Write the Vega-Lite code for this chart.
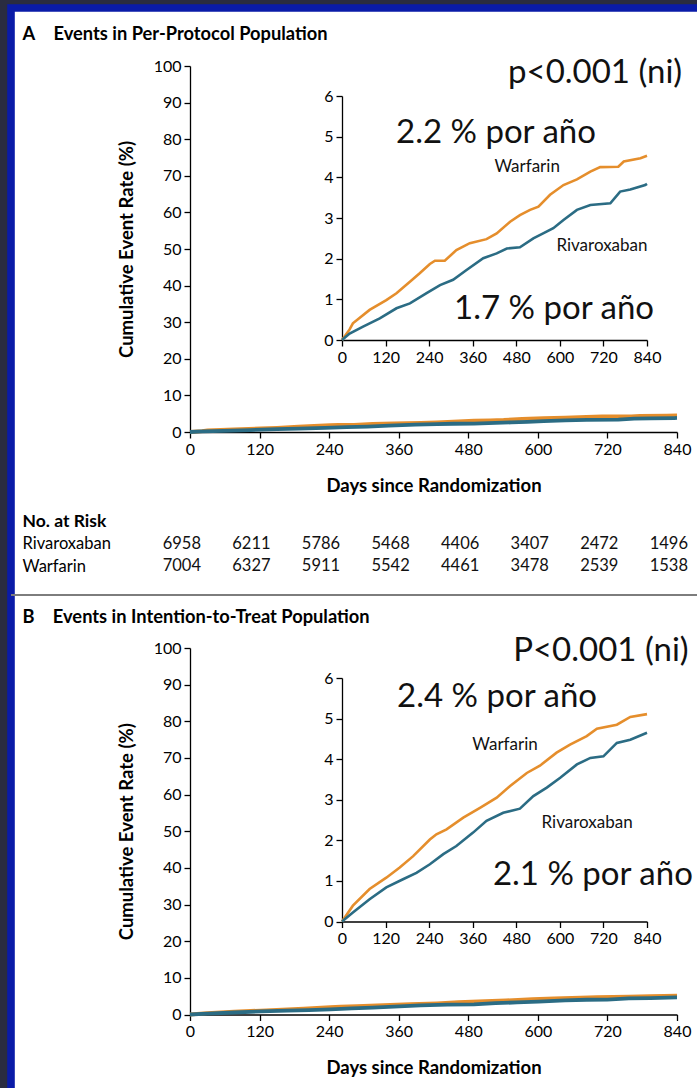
{
  "$schema": "https://vega.github.io/schema/vega-lite/v6.json",
  "width": 686,
  "height": 1080,
  "autosize": {"type": "none"},
  "padding": {"left": 11, "top": 8, "right": 0, "bottom": 0},
  "background": "#2a2c40",
  "config": {
    "view": {"fill": "white", "stroke": "#0a1ba8", "strokeWidth": 7.6, "strokeDash": [686, 1766, 1080]},
    "font": "Lato",
    "text": {"font": "Lato", "color": "#111111"},
    "axis": {
      "grid": false, "domainColor": "#000000", "tickColor": "#000000", "labelColor": "#000000", "titleColor": "#000000",
      "labelFont": "Lato", "titleFont": "Lato", "labelFontSize": 16, "titleFontSize": 18.5, "titleFontWeight": "bold",
      "tickSize": 6, "tickWidth": 1.3, "domainWidth": 1.3, "labelFlush": false, "labelOverlap": false, "labelPadding": 3
    }
  },
  "datasets": {
    "km": [
      {"panel": "A", "arm": "Warfarin", "day": 0, "rate": 0},
      {"panel": "A", "arm": "Warfarin", "day": 21, "rate": 0.26},
      {"panel": "A", "arm": "Warfarin", "day": 30, "rate": 0.41},
      {"panel": "A", "arm": "Warfarin", "day": 76, "rate": 0.74},
      {"panel": "A", "arm": "Warfarin", "day": 122, "rate": 0.98},
      {"panel": "A", "arm": "Warfarin", "day": 150, "rate": 1.15},
      {"panel": "A", "arm": "Warfarin", "day": 187, "rate": 1.43},
      {"panel": "A", "arm": "Warfarin", "day": 214, "rate": 1.64},
      {"panel": "A", "arm": "Warfarin", "day": 242, "rate": 1.87},
      {"panel": "A", "arm": "Warfarin", "day": 256, "rate": 1.95},
      {"panel": "A", "arm": "Warfarin", "day": 283, "rate": 1.95},
      {"panel": "A", "arm": "Warfarin", "day": 315, "rate": 2.21},
      {"panel": "A", "arm": "Warfarin", "day": 352, "rate": 2.38},
      {"panel": "A", "arm": "Warfarin", "day": 398, "rate": 2.48},
      {"panel": "A", "arm": "Warfarin", "day": 426, "rate": 2.62},
      {"panel": "A", "arm": "Warfarin", "day": 463, "rate": 2.91},
      {"panel": "A", "arm": "Warfarin", "day": 490, "rate": 3.07},
      {"panel": "A", "arm": "Warfarin", "day": 518, "rate": 3.2},
      {"panel": "A", "arm": "Warfarin", "day": 541, "rate": 3.28},
      {"panel": "A", "arm": "Warfarin", "day": 573, "rate": 3.57},
      {"panel": "A", "arm": "Warfarin", "day": 610, "rate": 3.81},
      {"panel": "A", "arm": "Warfarin", "day": 647, "rate": 3.95},
      {"panel": "A", "arm": "Warfarin", "day": 684, "rate": 4.14},
      {"panel": "A", "arm": "Warfarin", "day": 711, "rate": 4.25},
      {"panel": "A", "arm": "Warfarin", "day": 761, "rate": 4.26},
      {"panel": "A", "arm": "Warfarin", "day": 776, "rate": 4.39},
      {"panel": "A", "arm": "Warfarin", "day": 822, "rate": 4.47},
      {"panel": "A", "arm": "Warfarin", "day": 840, "rate": 4.53},
      {"panel": "A", "arm": "Rivaroxaban", "day": 0, "rate": 0},
      {"panel": "A", "arm": "Rivaroxaban", "day": 21, "rate": 0.16},
      {"panel": "A", "arm": "Rivaroxaban", "day": 58, "rate": 0.33},
      {"panel": "A", "arm": "Rivaroxaban", "day": 104, "rate": 0.53},
      {"panel": "A", "arm": "Rivaroxaban", "day": 150, "rate": 0.78},
      {"panel": "A", "arm": "Rivaroxaban", "day": 187, "rate": 0.9},
      {"panel": "A", "arm": "Rivaroxaban", "day": 233, "rate": 1.15},
      {"panel": "A", "arm": "Rivaroxaban", "day": 270, "rate": 1.35},
      {"panel": "A", "arm": "Rivaroxaban", "day": 306, "rate": 1.48},
      {"panel": "A", "arm": "Rivaroxaban", "day": 343, "rate": 1.72},
      {"panel": "A", "arm": "Rivaroxaban", "day": 389, "rate": 2.01},
      {"panel": "A", "arm": "Rivaroxaban", "day": 426, "rate": 2.13},
      {"panel": "A", "arm": "Rivaroxaban", "day": 454, "rate": 2.25},
      {"panel": "A", "arm": "Rivaroxaban", "day": 490, "rate": 2.28},
      {"panel": "A", "arm": "Rivaroxaban", "day": 527, "rate": 2.5},
      {"panel": "A", "arm": "Rivaroxaban", "day": 554, "rate": 2.62},
      {"panel": "A", "arm": "Rivaroxaban", "day": 582, "rate": 2.75},
      {"panel": "A", "arm": "Rivaroxaban", "day": 610, "rate": 2.95},
      {"panel": "A", "arm": "Rivaroxaban", "day": 647, "rate": 3.2},
      {"panel": "A", "arm": "Rivaroxaban", "day": 684, "rate": 3.32},
      {"panel": "A", "arm": "Rivaroxaban", "day": 739, "rate": 3.36},
      {"panel": "A", "arm": "Rivaroxaban", "day": 766, "rate": 3.65},
      {"panel": "A", "arm": "Rivaroxaban", "day": 794, "rate": 3.7},
      {"panel": "A", "arm": "Rivaroxaban", "day": 835, "rate": 3.81},
      {"panel": "A", "arm": "Rivaroxaban", "day": 840, "rate": 3.84},
      {"panel": "B", "arm": "Warfarin", "day": 0, "rate": 0},
      {"panel": "B", "arm": "Warfarin", "day": 30, "rate": 0.39},
      {"panel": "B", "arm": "Warfarin", "day": 76, "rate": 0.8},
      {"panel": "B", "arm": "Warfarin", "day": 122, "rate": 1.08},
      {"panel": "B", "arm": "Warfarin", "day": 159, "rate": 1.33},
      {"panel": "B", "arm": "Warfarin", "day": 196, "rate": 1.61},
      {"panel": "B", "arm": "Warfarin", "day": 242, "rate": 2.02},
      {"panel": "B", "arm": "Warfarin", "day": 260, "rate": 2.15},
      {"panel": "B", "arm": "Warfarin", "day": 288, "rate": 2.27},
      {"panel": "B", "arm": "Warfarin", "day": 334, "rate": 2.56},
      {"panel": "B", "arm": "Warfarin", "day": 380, "rate": 2.8},
      {"panel": "B", "arm": "Warfarin", "day": 426, "rate": 3.05},
      {"panel": "B", "arm": "Warfarin", "day": 463, "rate": 3.34},
      {"panel": "B", "arm": "Warfarin", "day": 509, "rate": 3.66},
      {"panel": "B", "arm": "Warfarin", "day": 545, "rate": 3.84},
      {"panel": "B", "arm": "Warfarin", "day": 591, "rate": 4.16},
      {"panel": "B", "arm": "Warfarin", "day": 628, "rate": 4.36},
      {"panel": "B", "arm": "Warfarin", "day": 674, "rate": 4.57},
      {"panel": "B", "arm": "Warfarin", "day": 702, "rate": 4.75},
      {"panel": "B", "arm": "Warfarin", "day": 757, "rate": 4.85},
      {"panel": "B", "arm": "Warfarin", "day": 794, "rate": 5.04},
      {"panel": "B", "arm": "Warfarin", "day": 840, "rate": 5.11},
      {"panel": "B", "arm": "Rivaroxaban", "day": 0, "rate": 0},
      {"panel": "B", "arm": "Rivaroxaban", "day": 30, "rate": 0.22},
      {"panel": "B", "arm": "Rivaroxaban", "day": 76, "rate": 0.55},
      {"panel": "B", "arm": "Rivaroxaban", "day": 122, "rate": 0.84},
      {"panel": "B", "arm": "Rivaroxaban", "day": 168, "rate": 1.04},
      {"panel": "B", "arm": "Rivaroxaban", "day": 205, "rate": 1.2},
      {"panel": "B", "arm": "Rivaroxaban", "day": 242, "rate": 1.41},
      {"panel": "B", "arm": "Rivaroxaban", "day": 279, "rate": 1.66},
      {"panel": "B", "arm": "Rivaroxaban", "day": 315, "rate": 1.86},
      {"panel": "B", "arm": "Rivaroxaban", "day": 361, "rate": 2.19},
      {"panel": "B", "arm": "Rivaroxaban", "day": 398, "rate": 2.48},
      {"panel": "B", "arm": "Rivaroxaban", "day": 444, "rate": 2.68},
      {"panel": "B", "arm": "Rivaroxaban", "day": 490, "rate": 2.78},
      {"panel": "B", "arm": "Rivaroxaban", "day": 527, "rate": 3.09},
      {"panel": "B", "arm": "Rivaroxaban", "day": 564, "rate": 3.3},
      {"panel": "B", "arm": "Rivaroxaban", "day": 601, "rate": 3.54},
      {"panel": "B", "arm": "Rivaroxaban", "day": 647, "rate": 3.87},
      {"panel": "B", "arm": "Rivaroxaban", "day": 684, "rate": 4.03},
      {"panel": "B", "arm": "Rivaroxaban", "day": 720, "rate": 4.07},
      {"panel": "B", "arm": "Rivaroxaban", "day": 757, "rate": 4.4},
      {"panel": "B", "arm": "Rivaroxaban", "day": 794, "rate": 4.48},
      {"panel": "B", "arm": "Rivaroxaban", "day": 840, "rate": 4.65}
    ],
    "risk": [
      {"arm": "Rivaroxaban", "day": 0, "n": 6958},
      {"arm": "Rivaroxaban", "day": 120, "n": 6211},
      {"arm": "Rivaroxaban", "day": 240, "n": 5786},
      {"arm": "Rivaroxaban", "day": 360, "n": 5468},
      {"arm": "Rivaroxaban", "day": 480, "n": 4406},
      {"arm": "Rivaroxaban", "day": 600, "n": 3407},
      {"arm": "Rivaroxaban", "day": 720, "n": 2472},
      {"arm": "Rivaroxaban", "day": 840, "n": 1496},
      {"arm": "Warfarin", "day": 0, "n": 7004},
      {"arm": "Warfarin", "day": 120, "n": 6327},
      {"arm": "Warfarin", "day": 240, "n": 5911},
      {"arm": "Warfarin", "day": 360, "n": 5542},
      {"arm": "Warfarin", "day": 480, "n": 4461},
      {"arm": "Warfarin", "day": 600, "n": 3478},
      {"arm": "Warfarin", "day": 720, "n": 2539},
      {"arm": "Warfarin", "day": 840, "n": 1538}
    ],
    "armlabels": [
      {"panel": "A", "arm": "Warfarin", "day": 510, "rate": 4.25},
      {"panel": "A", "arm": "Rivaroxaban", "day": 716, "rate": 2.31},
      {"panel": "B", "arm": "Warfarin", "day": 449, "rate": 4.35},
      {"panel": "B", "arm": "Rivaroxaban", "day": 675, "rate": 2.43}
    ],
    "notes": [
      {"panel": "A", "label": "p<0.001 (ni)", "day": 697, "rate": 6.57},
      {"panel": "A", "label": "2.2 % por año", "day": 424, "rate": 5.09},
      {"panel": "A", "label": "1.7 % por año", "day": 584, "rate": 0.76},
      {"panel": "B", "label": "P<0.001 (ni)", "day": 713, "rate": 6.67},
      {"panel": "B", "label": "2.4 % por año", "day": 427, "rate": 5.53},
      {"panel": "B", "label": "2.1 % por año", "day": 691, "rate": 1.15}
    ],
    "separator": [
      {"between": "A|B"}
    ]
  },
  "resolve": {"scale": {"x": "independent", "y": "independent"}, "axis": {"x": "independent", "y": "independent"}},
  "layer": [
    {
      "data": {"name": "km"},
      "transform": [{"filter": "datum.panel === 'A'"}],
      "mark": {"type": "line", "strokeWidth": 3.8},
      "encoding": {
        "x": {"field": "day", "type": "quantitative",
          "scale": {"domain": [0, 840], "range": [179, 666], "nice": false, "zero": false},
          "axis": {"orient": "bottom", "offset": -656, "values": [0, 120, 240, 360, 480, 600, 720, 840], "title": "Days since Randomization", "titlePadding": 19}},
        "y": {"field": "rate", "type": "quantitative",
          "scale": {"domain": [0, 100], "range": [424, 58], "nice": false},
          "axis": {"orient": "left", "offset": -179, "values": [0, 10, 20, 30, 40, 50, 60, 70, 80, 90, 100], "title": "Cumulative Event Rate (%)", "titlePadding": 17}},
        "color": {"field": "arm", "type": "nominal", "scale": {"domain": ["Rivaroxaban", "Warfarin"], "range": ["#2b6c84", "#e58e2c"]}, "legend": null}
      }
    },
    {
      "layer": [
        {
          "data": {"name": "km"},
          "transform": [{"filter": "datum.panel === 'A'"}],
          "mark": {"type": "line", "strokeWidth": 2.6},
          "encoding": {
            "x": {"field": "day", "type": "quantitative",
              "scale": {"domain": [0, 840], "range": [331, 636], "nice": false, "zero": false},
              "axis": {"orient": "bottom", "offset": -748, "values": [0, 120, 240, 360, 480, 600, 720, 840],
                "title": "A\u2002\u2002Events in Per-Protocol Population", "titleX": 11, "titleY": -306, "titleAngle": 0,
                "titleAlign": "left", "titleBaseline": "middle", "titleFontSize": 18.3}},
            "y": {"field": "rate", "type": "quantitative",
              "scale": {"domain": [0, 6], "range": [332, 88], "nice": false},
              "axis": {"orient": "left", "offset": -331, "values": [0, 1, 2, 3, 4, 5, 6], "format": "d", "title": null}},
            "color": {"field": "arm", "type": "nominal", "legend": null}
          }
        },
        {
          "data": {"name": "armlabels"},
          "transform": [{"filter": "datum.panel === 'A'"}],
          "mark": {"type": "text", "fontSize": 17, "baseline": "middle"},
          "encoding": {
            "x": {"field": "day", "type": "quantitative"},
            "y": {"field": "rate", "type": "quantitative"},
            "text": {"field": "arm"}
          }
        },
        {
          "data": {"name": "notes"},
          "transform": [{"filter": "datum.panel === 'A'"}],
          "mark": {"type": "text", "fontSize": 33, "baseline": "middle", "color": "#111111"},
          "encoding": {
            "x": {"field": "day", "type": "quantitative"},
            "y": {"field": "rate", "type": "quantitative"},
            "text": {"field": "label"}
          }
        }
      ]
    },
    {
      "data": {"name": "risk"},
      "mark": {"type": "text", "align": "right", "dx": 11, "baseline": "middle", "fontSize": 16.5},
      "encoding": {
        "x": {"field": "day", "type": "quantitative",
          "scale": {"domain": [0, 840], "range": [179, 666], "nice": false, "zero": false}, "axis": null},
        "y": {"field": "arm", "type": "nominal",
          "scale": {"type": "point", "domain": ["No. at Risk", "Rivaroxaban", "Warfarin"], "range": [513, 558], "padding": 0},
          "axis": {"orient": "left", "offset": -11, "ticks": false, "tickSize": 0, "domain": false, "labelAlign": "left", "labelPadding": 0,
            "labelFontSize": {"condition": {"test": "datum.value === 'No. at Risk'", "value": 17.5}, "value": 16.5},
            "labelFontWeight": {"condition": {"test": "datum.value === 'No. at Risk'", "value": "bold"}, "value": "normal"},
            "title": null}},
        "text": {"field": "n", "type": "quantitative", "format": "d"}
      }
    },
    {
      "layer": [
        {
          "data": {"name": "km"},
          "transform": [{"filter": "datum.panel === 'B'"}],
          "mark": {"type": "line", "strokeWidth": 3.8},
          "encoding": {
            "x": {"field": "day", "type": "quantitative",
              "scale": {"domain": [0, 840], "range": [179, 666], "nice": false, "zero": false},
              "axis": {"orient": "bottom", "offset": -73.5, "values": [0, 120, 240, 360, 480, 600, 720, 840], "title": "Days since Randomization", "titlePadding": 19}},
            "y": {"field": "rate", "type": "quantitative",
              "scale": {"domain": [0, 100], "range": [1006.5, 640], "nice": false},
              "axis": {"orient": "left", "offset": -179, "values": [0, 10, 20, 30, 40, 50, 60, 70, 80, 90, 100], "title": "Cumulative Event Rate (%)", "titlePadding": 17}},
            "color": {"field": "arm", "type": "nominal", "legend": null}
          }
        },
        {
          "data": {"name": "separator"},
          "mark": {"type": "rule", "color": "#7d7d7d", "strokeWidth": 2},
          "encoding": {"y": {"datum": 114.46}}
        }
      ]
    },
    {
      "layer": [
        {
          "data": {"name": "km"},
          "transform": [{"filter": "datum.panel === 'B'"}],
          "mark": {"type": "line", "strokeWidth": 2.6},
          "encoding": {
            "x": {"field": "day", "type": "quantitative",
              "scale": {"domain": [0, 840], "range": [331, 636], "nice": false, "zero": false},
              "axis": {"orient": "bottom", "offset": -166.5, "values": [0, 120, 240, 360, 480, 600, 720, 840],
                "title": "B\u2002\u2002Events in Intention-to-Treat Population", "titleX": 11, "titleY": -304.5, "titleAngle": 0,
                "titleAlign": "left", "titleBaseline": "middle", "titleFontSize": 18.3}},
            "y": {"field": "rate", "type": "quantitative",
              "scale": {"domain": [0, 6], "range": [913.5, 670], "nice": false},
              "axis": {"orient": "left", "offset": -331, "values": [0, 1, 2, 3, 4, 5, 6], "format": "d", "title": null}},
            "color": {"field": "arm", "type": "nominal", "legend": null}
          }
        },
        {
          "data": {"name": "armlabels"},
          "transform": [{"filter": "datum.panel === 'B'"}],
          "mark": {"type": "text", "fontSize": 17, "baseline": "middle"},
          "encoding": {
            "x": {"field": "day", "type": "quantitative"},
            "y": {"field": "rate", "type": "quantitative"},
            "text": {"field": "arm"}
          }
        },
        {
          "data": {"name": "notes"},
          "transform": [{"filter": "datum.panel === 'B'"}],
          "mark": {"type": "text", "fontSize": 33, "baseline": "middle", "color": "#111111"},
          "encoding": {
            "x": {"field": "day", "type": "quantitative"},
            "y": {"field": "rate", "type": "quantitative"},
            "text": {"field": "label"}
          }
        }
      ]
    }
  ]
}
